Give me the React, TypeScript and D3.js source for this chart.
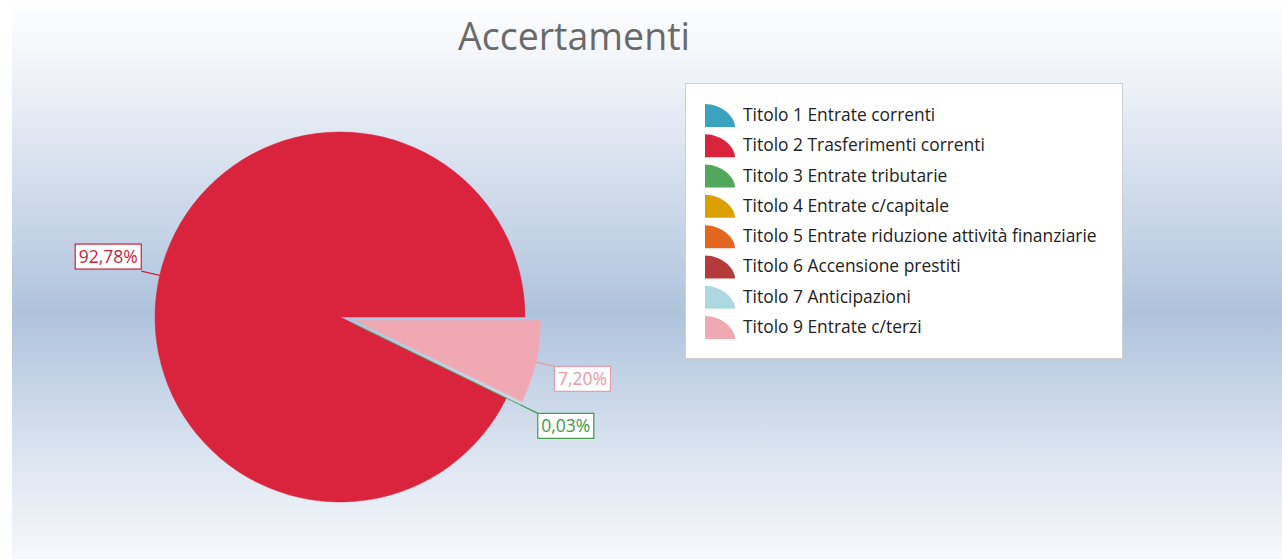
import React, { useEffect, useRef } from "react";
import * as d3 from "d3";

const categories = [
  "Titolo 1 Entrate correnti",
  "Titolo 2 Trasferimenti correnti",
  "Titolo 3 Entrate tributarie",
  "Titolo 4 Entrate c/capitale",
  "Titolo 5 Entrate riduzione attività finanziarie",
  "Titolo 6 Accensione prestiti",
  "Titolo 7 Anticipazioni",
  "Titolo 9 Entrate c/terzi",
];
const values = [0, 92.78, 0.03, 0, 0, 0, 0, 7.2];
const colors = ["#3aa3c0", "#da233d", "#52a85a", "#dba000", "#e3651f", "#b53a3a", "#acd8e1", "#f0a9b2"];
const labelColors = ["#3aa3c0", "#c8243d", "#3f9a4a", "#dba000", "#e3651f", "#b53a3a", "#acd8e1", "#e99aa5"];
const explodedIdx = [2, 7];
const title = "Accertamenti";

const W = 1282;
const H = 559;

export default function App() {
  const ref = useRef<SVGSVGElement>(null);
  useEffect(() => {
    const svg = d3.select(ref.current);
    svg.selectAll("*").remove();

    const defs = svg.append("defs");
    const grad = defs.append("linearGradient").attr("id", "bg").attr("x1", 0).attr("x2", 0).attr("y1", 0).attr("y2", 1);
    [
      [0, "#ffffff"],
      [0.18, "#e9eef6"],
      [0.56, "#afc3dd"],
      [0.85, "#e2e9f3"],
      [1, "#f6f8fb"],
    ].forEach(([o, c]) => grad.append("stop").attr("offset", o as number).attr("stop-color", c as string));

    svg.append("rect").attr("x", 0).attr("y", 0).attr("width", W).attr("height", H).attr("fill", "#ffffff");
    svg.append("rect").attr("x", 12).attr("y", 0).attr("width", W - 12).attr("height", H).attr("fill", "url(#bg)");

    svg
      .append("text")
      .attr("x", 574)
      .attr("y", 50)
      .attr("text-anchor", "middle")
      .attr("font-family", "'Liberation Sans Narrow', 'Open Sans', sans-serif")
      .attr("font-size", 38)
      .attr("fill", "#6a6a6a")
      .attr("textLength", 232)
      .attr("lengthAdjust", "spacingAndGlyphs")
      .text(title);

    // pie
    const cx = 340,
      cy = 317,
      r = 185,
      explode = 16;
    const data = categories.map((c, i) => ({ c, v: values[i], i }));
    const pie = d3
      .pie<any>()
      .sort(null)
      .value((d) => d.v)
      .startAngle(Math.PI / 2)
      .endAngle(Math.PI / 2 - 2 * Math.PI);
    const arcs = pie(data).filter((a) => a.data.v > 0);
    const arc = d3.arc<any>().innerRadius(0).outerRadius(r);
    const g = svg.append("g").attr("transform", `translate(${cx},${cy})`);

    arcs.forEach((a) => {
      const mid = (a.startAngle + a.endAngle) / 2;
      const off = explodedIdx.includes(a.data.i) ? explode : 0;
      const dx = off * Math.sin(mid),
        dy = -off * Math.cos(mid);
      g.append("path")
        .attr("d", arc(a) as string)
        .attr("transform", `translate(${dx},${dy})`)
        .attr("fill", colors[a.data.i])
        .attr("stroke", colors[a.data.i])
        .attr("stroke-width", 0.5);
    });

    // labels
    arcs.forEach((a) => {
      const mid = (a.startAngle + a.endAngle) / 2;
      const off = explodedIdx.includes(a.data.i) ? explode : 0;
      const s = Math.sin(mid),
        c = -Math.cos(mid);
      const r0 = r + off;
      const r1 = r0 + 19;
      const x0 = cx + r0 * s,
        y0 = cy + r0 * c;
      const x1 = cx + r1 * s,
        y1 = cy + r1 * c;
      const col = labelColors[a.data.i];
      svg.append("line").attr("x1", x0).attr("y1", y0).attr("x2", x1).attr("y2", y1).attr("stroke", col).attr("stroke-width", 1.2);
      const txt = d3.format(".2f")(a.data.v).replace(".", ",") + "%";
      const lg = svg.append("g");
      const rect = lg.append("rect");
      const t = lg
        .append("text")
        .attr("font-family", "'Open Sans', sans-serif")
        .attr("font-size", 17.5)
        .attr("fill", col)
        .text(txt);
      const bw = (t.node() as SVGTextElement).getComputedTextLength() + 7;
      const bh = 25;
      const bx = s >= 0 ? x1 : x1 - bw;
      const by = c >= 0 ? y1 : y1 - bh - 2;
      rect
        .attr("x", bx)
        .attr("y", by)
        .attr("width", bw)
        .attr("height", bh)
        .attr("fill", "#ffffff")
        .attr("stroke", col)
        .attr("stroke-width", 1.2);
      t.attr("x", bx + 3.5).attr("y", by + 19);
    });

    // legend
    const lx = 685,
      ly = 83;
    svg
      .append("rect")
      .attr("x", lx + 0.5)
      .attr("y", ly + 0.5)
      .attr("width", 437)
      .attr("height", 275)
      .attr("fill", "#ffffff")
      .attr("stroke", "#cfcfcf");
    const rowY = d3.scalePoint<string>().domain(categories).range([115, 327]);
    categories.forEach((cat, i) => {
      const y = rowY(cat)!;
      const x0 = 705,
        yb = y + 12,
        sw = 30,
        sh = 23;
      const p = d3.path();
      p.moveTo(x0, yb);
      p.lineTo(x0, yb - sh);
      p.bezierCurveTo(x0 + sw * 0.55, yb - sh, x0 + sw, yb - sh * 0.45, x0 + sw, yb);
      p.closePath();
      svg.append("path").attr("d", p.toString()).attr("fill", colors[i]);
      svg
        .append("text")
        .attr("x", 743)
        .attr("y", y + 6)
        .attr("font-family", "'Open Sans', sans-serif")
        .attr("font-size", 17.4)
        .attr("fill", "#222")
        .text(cat);
    });
  }, []);
  return (
    <svg ref={ref} width={W} height={H} style={{ position: "absolute", left: 0, top: 0 }} />
  );
}
